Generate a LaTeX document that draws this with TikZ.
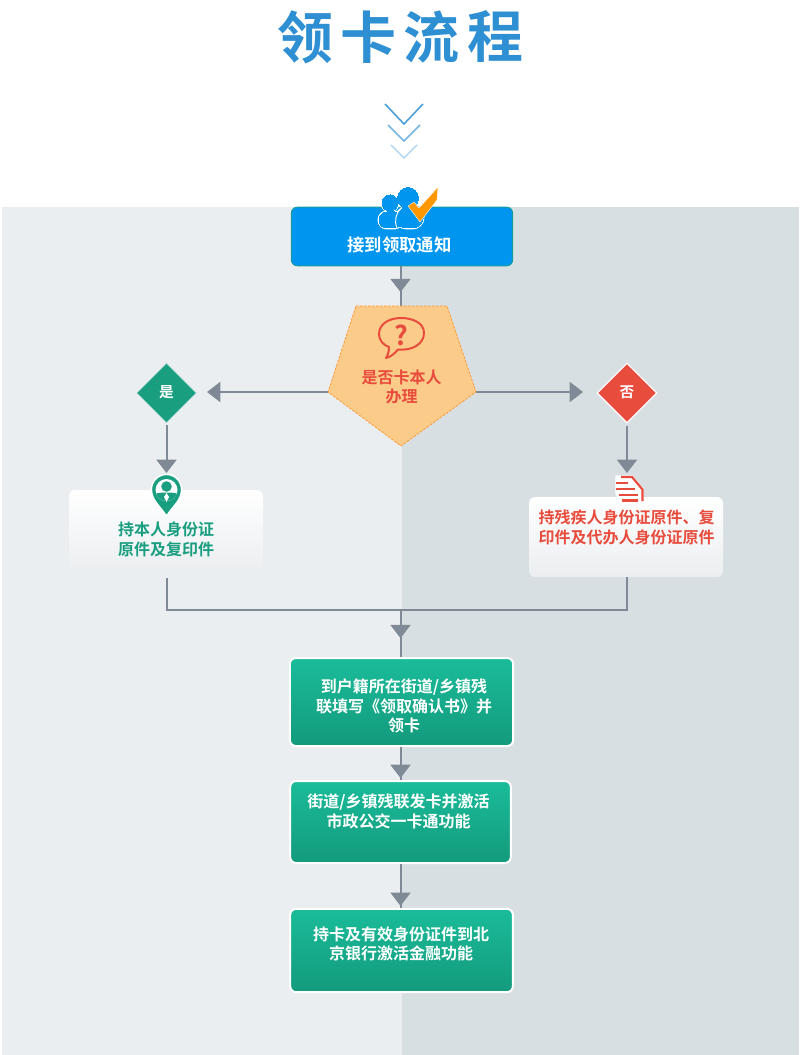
\documentclass[tikz,border=0pt]{standalone}
\usepackage{fontspec}
\setmainfont{Noto Sans CJK SC Bold}
\usetikzlibrary{arrows.meta,decorations.markings,shapes.geometric}
\definecolor{panelL}{HTML}{EBEEF0}
\definecolor{panelR}{HTML}{D8DFE3}
\definecolor{linegray}{HTML}{7F8A96}
\definecolor{startblue}{HTML}{0096F0}
\definecolor{teal}{HTML}{1A9E80}
\definecolor{redd}{HTML}{E84C3D}
\definecolor{pent}{HTML}{FBCB8A}
\definecolor{titleblue}{HTML}{2F8FD3}
\definecolor{green1}{HTML}{1ABC9A}
\definecolor{green2}{HTML}{139A7C}
\definecolor{checko}{HTML}{FF9800}
\tikzset{
 x=0.75pt,y=-0.75pt,
 conn/.style={draw=linegray,line width=1.5pt},
 head/.style={conn,postaction={decorate,decoration={markings,mark=at position #1 with {\arrow{Triangle[length=10pt,width=15pt]}}}}},
 tipped/.style={conn,-{Triangle[length=10pt,width=15pt]}},
 greenbox/.style={rectangle,rounded corners=4.5pt,draw=white,line width=1.5pt,top color=green1,bottom color=green2,inner sep=0pt},
 sidebox/.style={rectangle,rounded corners=4.5pt,top color=white,inner sep=0pt},
 label/.style={font=\fontsize{12pt}{14.6pt}\selectfont,align=center,inner sep=0pt},
 titlechar/.style={text=titleblue,inner sep=0pt,font=\fontsize{42pt}{42pt}\selectfont},
 choice/.style={diamond,aspect=1,inner sep=0pt},
}
\begin{document}
\begin{tikzpicture}
\useasboundingbox (0,0) rectangle (800,1055);
\fill[white] (0,0) rectangle (800,1055);
\fill[panelL] (2,207) rectangle (402,1055);
\fill[panelR] (402,207) rectangle (799,1055);
% title
\node[titlechar] (t1) at (305,37) {领};
\node[titlechar] (t2) at (368,37) {卡};
\node[titlechar] (t3) at (431,37) {流};
\node[titlechar] (t4) at (495,37) {程};
% chevrons
\draw[color=titleblue!85,line width=1.2pt] (385,104)--(404,124)--(423,104);
\draw[color=titleblue!65,line width=1.1pt] (388,125)--(404,141)--(420,125);
\draw[color=titleblue!40,line width=1pt] (391,145)--(404,158)--(417,145);
% named points
\coordinate (pT) at (400.5,306); \coordinate (pL) at (328,392); \coordinate (pR) at (476,392);
\coordinate (mid) at (400.5,610);
\coordinate (lcorner) at (167,610); \coordinate (rcorner) at (627,610);
\coordinate (spine) at (400.5,0);
% start box
\node[rectangle,rounded corners=4.5pt,fill=startblue,draw=teal!75!startblue,line width=.7pt,minimum width=166pt,minimum height=44pt,inner sep=0pt] (start) at (402,236.5) {};
\node[label,text=white,font=\fontsize{13pt}{15pt}\selectfont] (startt) at (399.5,245) {接到领取通知};
% connectors behind the pentagon
\draw[head=0.65] (start.south -| spine) -- (pT);
\draw[tipped] (pL) -- (207,392) coordinate (ltip);
\draw[tipped] (pR) -- (583,392) coordinate (rtip);
% pentagon
\filldraw[fill=pent,draw=orange!75!pent,line width=.5pt,dash pattern=on 2pt off 1pt] (356,306)--(447,306)--(pR)--(401,446)--(pL)--cycle;
\node[label,text=redd] (q) at (401.5,387) {是否卡本人\\办理};
% speech bubble
\draw[redd,line width=1.5pt,fill=pent,line join=round] (398,349.5) .. controls (412,351) and (424,344) .. (424,333) .. controls (424,323) and (413,318) .. (401,318) .. controls (389,318) and (379,324) .. (379,334) .. controls (379,340) and (383,345) .. (389,347) .. controls (389,351) and (388,355) .. (386,358) .. controls (391,357) and (395,353) .. (398,349.5) -- cycle;
\node[text=redd,inner sep=0pt,font=\fontsize{20pt}{20pt}\selectfont] (qm) at (401,335) {?};
% diamonds
\node[choice,fill=teal,draw=white!55!teal,line width=.4pt,minimum width=44.5pt,minimum height=44.5pt] (yes) at (166.5,393) {};
\node[label,text=white,font=\fontsize{11pt}{13pt}\selectfont] (yest) at (166.5,392.5) {是};
\node[choice,fill=redd,draw=white,line width=1pt,minimum width=45pt,minimum height=45pt] (no) at (627,393) {};
\node[label,text=white,font=\fontsize{11pt}{13pt}\selectfont] (not) at (627,392.5) {否};
% side boxes
\node[sidebox,bottom color=panelL,minimum width=145.5pt,minimum height=61.5pt] (lbox) at (166,531) {};
\node[sidebox,bottom color=panelL,minimum width=145.5pt,minimum height=60pt] (rbox) at (626,537) {};
\node[label,text=teal] (lt) at (166,539.5) {持本人身份证\\原件及复印件};
\node[label,text=redd] (rt) at (626.5,527.5) {持残疾人身份证原件、复\\印件及代办人身份证原件};
% connectors
\draw[tipped] ([yshift=-1.5pt]yes.south) -- (166.5,473) coordinate (ytip);
\draw[tipped] ([yshift=-1.5pt]no.south) -- (627,473) coordinate (ntip);
\draw[conn] ([yshift=-4.5pt]lbox.south -| lcorner) -- (lcorner) -- (rcorner) -- (rbox.south -| rcorner);
% green boxes
\node[greenbox,minimum width=167.5pt,minimum height=66pt] (b1) at (401.5,702) {};
\node[greenbox,minimum width=165.5pt,minimum height=61.5pt] (b2) at (400.5,822) {};
\node[greenbox,minimum width=167pt,minimum height=62.5pt] (b3) at (401.5,950.5) {};
\node[label,text=white] (b1t) at (404,706) {到户籍所在街道/乡镇残\\联填写《领取确认书》并\\领卡};
\node[label,text=white] (b2t) at (398.5,811.5) {街道/乡镇残联发卡并激活\\市政公交一卡通功能};
\node[label,text=white] (b3t) at (401,944) {持卡及有效身份证件到北\\京银行激活金融功能};
\draw[head=0.60] (mid) -- (b1.north -| mid);
\draw[head=0.94] (b1.south -| mid) -- (b2.north -| mid);
\draw[head=0.955] (b2.south -| mid) -- (b3.north -| mid);
% people icon
\foreach \w/\c in {2.2pt/white,0pt/startblue}{
 \filldraw[fill=startblue,draw=\c,line width=\w] (390,203) circle (8);
 \filldraw[fill=startblue,draw=\c,line width=\w,rounded corners=6pt] (379,212) rectangle (402,228);
 \filldraw[fill=startblue,draw=\c,line width=\w] (408,198) circle (10.5);
 \filldraw[fill=startblue,draw=\c,line width=\w,rounded corners=8pt] (396,208) rectangle (423,228);
}
\draw[white,line width=.7pt] (397,228) .. controls (394,221) and (396,214) .. (400,209);
\filldraw[fill=checko,draw=white,line width=.3pt] (408,206) -- (414,202) -- (419,208) -- (438,187) -- (437,200) -- (420,222) -- cycle;
% pin icon
\filldraw[fill=teal,draw=white,line width=1pt] (166.5,516) .. controls (160,506) and (151.5,500) .. (151.5,489.5) arc[start angle=180,end angle=360,radius=15] .. controls (181.5,500) and (173,506) .. (166.5,516) -- cycle;
\fill[white] (166.5,490) circle (11);
\begin{scope}
\clip (166.5,490) circle (11);
\fill[teal] (155,494) .. controls (158,492) and (175,492) .. (178,494) -- (178,502) -- (155,502) -- cycle;
\end{scope}
\fill[teal] (166.5,486.5) circle (5.3);
\fill[white] (166.5,493) -- (169,497) -- (166.5,502) -- (164,497) -- cycle;
% document icon
\filldraw[fill=white,draw=white,line width=1pt] (616,476) -- (632,476) -- (643,489) -- (643,502) -- (622,502) -- (616,494) -- cycle;
\draw[redd,line width=1.6pt] (621,477) -- (632,477) -- (642.5,489.5) -- (642.5,501);
\draw[redd,line width=1.6pt] (616,483) -- (628,483) (616,489) -- (635,489) (619,495) -- (638,495) (622,500.5) -- (638,500.5);
\end{tikzpicture}
\end{document}
